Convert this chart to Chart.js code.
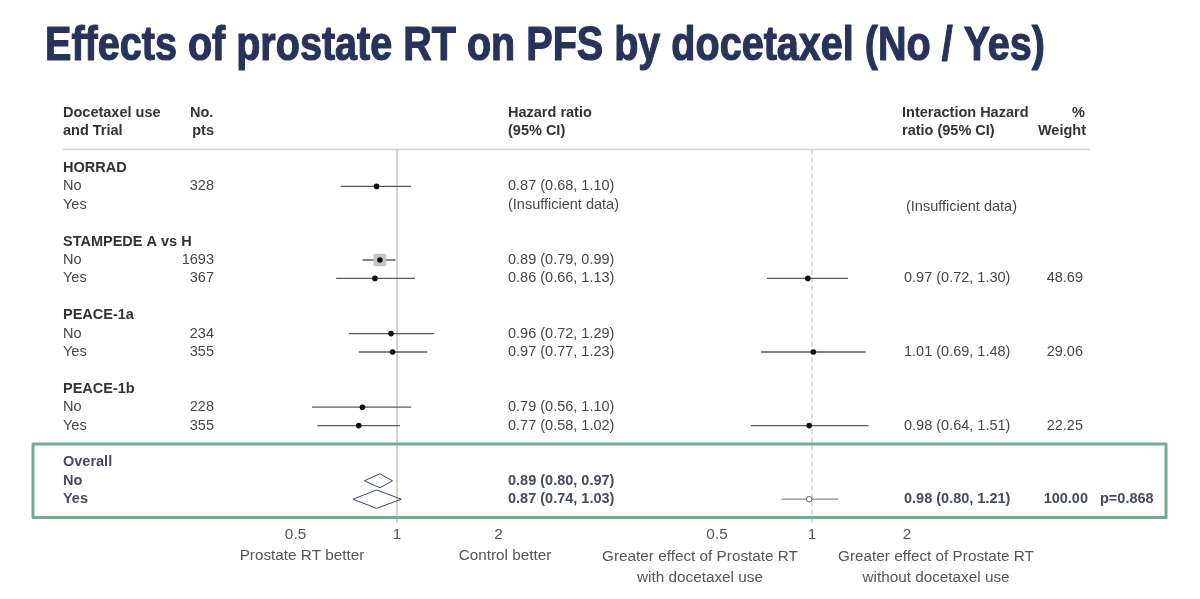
<!DOCTYPE html>
<html>
<head>
<meta charset="utf-8">
<script src="https://cdn.jsdelivr.net/npm/chart.js@4.4.0/dist/chart.umd.min.js"></script>
<style>
    html, body { margin: 0; background: #fff; }
    #wrap { width: 1200px; height: 599px; position: relative; }
</style>
</head>
<body>
<div id="wrap"><canvas id="forestChart"></canvas></div>
<script>
    // DATA
    const trials = ['HORRAD', 'STAMPEDE A vs H', 'PEACE-1a', 'PEACE-1b'];
    const groups = ['No', 'Yes'];
    const patients = [[328, null], [1693, 367], [234, 355], [228, 355]];
    const hr = [[0.87, null], [0.89, 0.86], [0.96, 0.97], [0.79, 0.77]];
    const hrLow = [[0.68, null], [0.79, 0.66], [0.72, 0.77], [0.56, 0.58]];
    const hrHigh = [[1.10, null], [0.99, 1.13], [1.29, 1.23], [1.10, 1.02]];

    const overallHr = [0.89, 0.87];
    const overallLow = [0.80, 0.74];
    const overallHigh = [0.97, 1.03];

    const interHr = [null, 0.97, 1.01, 0.98];
    const interLow = [null, 0.72, 0.69, 0.64];
    const interHigh = [null, 1.30, 1.48, 1.51];
    const interWeight = [null, 48.69, 29.06, 22.25];

    const overallInter = [0.98, 0.80, 1.21];
    const overallWeight = 100.00;
    const pInteraction = 'p=0.868';

    const xTicks = [0.5, 1, 2];

    // LAYOUT
    const ROW0 = 168, ROW_STEP = 18.4;
    const FONT = '"Liberation Sans", Arial, sans-serif';

    function rowOf(t, g) { return t * 4 + 1 + g; }
    function fmt(v, lo, hi) { return v.toFixed(2) + ' (' + lo.toFixed(2) + ', ' + hi.toFixed(2) + ')'; }

    // log scales spanning the whole canvas width, anchored on the "1" line of each panel
    const leftOne = 397, leftOct = 101.5;
    const rightOne = 812, rightOct = 95;

    const datasets = [];

    // study CI lines
    trials.forEach(function (t, i) {
        groups.forEach(function (g, j) {
            if (hr[i][j] == null) return;
            datasets.push({
                xAxisID: 'xL', showLine: true, borderColor: '#5a5a5a', borderWidth: 1.3,
                pointRadius: 0, order: 3,
                data: [{ x: hrLow[i][j], y: rowOf(i, j) }, { x: hrHigh[i][j], y: rowOf(i, j) }]
            });
        });
        if (interHr[i] != null) {
            datasets.push({
                xAxisID: 'xR', showLine: true, borderColor: '#5a5a5a', borderWidth: 1.3,
                pointRadius: 0, order: 3,
                data: [{ x: interLow[i], y: rowOf(i, 1) }, { x: interHigh[i], y: rowOf(i, 1) }]
            });
        }
    });

    // weight box (only the large one is visible)
    datasets.push({
        xAxisID: 'xL', pointStyle: 'rect', pointRadius: 9, backgroundColor: '#c6c6c6',
        borderWidth: 0, order: 2,
        data: [{ x: hr[1][0], y: rowOf(1, 0) }]
    });

    // study points
    const leftPts = [];
    trials.forEach(function (t, i) {
        groups.forEach(function (g, j) {
            if (hr[i][j] != null) leftPts.push({ x: hr[i][j], y: rowOf(i, j) });
        });
    });
    datasets.push({
        xAxisID: 'xL', pointRadius: 2.8, backgroundColor: '#111', borderWidth: 0, order: 1,
        data: leftPts
    });
    datasets.push({
        xAxisID: 'xR', pointRadius: 2.8, backgroundColor: '#111', borderWidth: 0, order: 1,
        data: interHr.map(function (v, i) { return v == null ? null : { x: v, y: rowOf(i, 1) }; })
            .filter(function (p) { return p; })
    });

    // overall diamonds
    overallHr.forEach(function (v, j) {
        const r = 17 + j, h = j == 0 ? 0.38 : 0.5;
        datasets.push({
            xAxisID: 'xL', showLine: true, borderColor: '#3d4868', borderWidth: 1,
            pointRadius: 0, order: 1, tension: 0,
            data: [
                { x: overallLow[j], y: r }, { x: v, y: r - h },
                { x: overallHigh[j], y: r }, { x: v, y: r + h }, { x: overallLow[j], y: r }
            ]
        });
    });

    // overall interaction
    datasets.push({
        xAxisID: 'xR', showLine: true, borderColor: '#8a8a8a', borderWidth: 1.3,
        pointRadius: 0, order: 3,
        data: [{ x: overallInter[1], y: 18 }, { x: overallInter[2], y: 18 }]
    });
    datasets.push({
        xAxisID: 'xR', pointRadius: 2.8, backgroundColor: '#fff', borderColor: '#666',
        borderWidth: 1, order: 1,
        data: [{ x: overallInter[0], y: 18 }]
    });

    function txt(ctx, s, x, y, align, font, color) {
        ctx.font = font;
        ctx.fillStyle = color;
        ctx.textAlign = align;
        ctx.textBaseline = 'middle';
        ctx.fillText(s, x, y);
    }

    const forestPlugin = {
        id: 'forestPlugin',
        beforeDatasetsDraw: function (chart) {
            const ctx = chart.ctx, y = chart.scales.y, xL = chart.scales.xL, xR = chart.scales.xR;
            ctx.save();
            // header rule
            ctx.strokeStyle = '#d2d2d2';
            ctx.lineWidth = 1.5;
            ctx.beginPath();
            ctx.moveTo(63, y.getPixelForValue(-1));
            ctx.lineTo(1090, y.getPixelForValue(-1));
            ctx.stroke();

            // reference lines at 1
            const top = y.getPixelForValue(-1), bottom = y.getPixelForValue(19.3);
            ctx.strokeStyle = '#a9a9a9';
            ctx.lineWidth = 1;
            ctx.beginPath();
            ctx.moveTo(xL.getPixelForValue(1), top);
            ctx.lineTo(xL.getPixelForValue(1), bottom);
            ctx.stroke();

            ctx.strokeStyle = '#cfcfcf';
            ctx.lineWidth = 1.5;
            ctx.setLineDash([5, 3]);
            ctx.beginPath();
            ctx.moveTo(xR.getPixelForValue(1), top);
            ctx.lineTo(xR.getPixelForValue(1), bottom);
            ctx.stroke();
            ctx.restore();
        },
        afterDraw: function (chart) {
            const ctx = chart.ctx, y = chart.scales.y, xL = chart.scales.xL, xR = chart.scales.xR;
            const normal = '14.5px ' + FONT, bold = 'bold 14.5px ' + FONT;
            const cText = '#474747', cHead = '#333', cOverall = '#464b5c';
            ctx.save();

            // title
            const title = 'Effects of prostate RT on PFS by docetaxel (No / Yes)';
            ctx.font = 'bold 48px ' + FONT;
            ctx.fillStyle = '#28335a';
            ctx.strokeStyle = '#28335a';
            ctx.lineWidth = 1.2;
            ctx.lineJoin = 'round';
            ctx.textAlign = 'left';
            ctx.textBaseline = 'alphabetic';
            ctx.fillText(title, 45, 60, 1000);
            ctx.strokeText(title, 45, 60, 1000);

            // column headers
            txt(ctx, 'Docetaxel use', 63, 113, 'left', bold, cHead);
            txt(ctx, 'and Trial', 63, 131, 'left', bold, cHead);
            txt(ctx, 'No.', 190, 113, 'left', bold, cHead);
            txt(ctx, 'pts', 214, 131, 'right', bold, cHead);
            txt(ctx, 'Hazard ratio', 508, 113, 'left', bold, cHead);
            txt(ctx, '(95% CI)', 508, 131, 'left', bold, cHead);
            txt(ctx, 'Interaction Hazard', 902, 113, 'left', bold, cHead);
            txt(ctx, '%', 1085, 113, 'right', bold, cHead);
            txt(ctx, 'ratio (95% CI)', 902, 131, 'left', bold, cHead);
            txt(ctx, 'Weight', 1086, 131, 'right', bold, cHead);

            // trial rows
            trials.forEach(function (t, i) {
                txt(ctx, t, 63, y.getPixelForValue(i * 4), 'left', bold, cHead);
                groups.forEach(function (g, j) {
                    const py = y.getPixelForValue(rowOf(i, j));
                    txt(ctx, g, 63, py, 'left', normal, cText);
                    if (patients[i][j] != null) txt(ctx, String(patients[i][j]), 214, py, 'right', normal, cText);
                    if (hr[i][j] != null)
                        txt(ctx, fmt(hr[i][j], hrLow[i][j], hrHigh[i][j]), 508, py, 'left', normal, cText);
                    else
                        txt(ctx, '(Insufficient data)', 508, py, 'left', normal, cText);
                });
                const py = y.getPixelForValue(rowOf(i, 1));
                if (interHr[i] != null) {
                    txt(ctx, fmt(interHr[i], interLow[i], interHigh[i]), 904, py, 'left', normal, cText);
                    txt(ctx, interWeight[i].toFixed(2), 1083, py, 'right', normal, cText);
                } else {
                    txt(ctx, '(Insufficient data)', 906, py + 2, 'left', normal, cText);
                }
            });

            // overall rows
            txt(ctx, 'Overall', 63, y.getPixelForValue(16), 'left', bold, cOverall);
            groups.forEach(function (g, j) {
                const py = y.getPixelForValue(17 + j);
                txt(ctx, g, 63, py, 'left', bold, cOverall);
                txt(ctx, fmt(overallHr[j], overallLow[j], overallHigh[j]), 508, py, 'left', bold, cOverall);
            });
            const py18 = y.getPixelForValue(18);
            txt(ctx, fmt(overallInter[0], overallInter[1], overallInter[2]), 904, py18, 'left', bold, cOverall);
            txt(ctx, overallWeight.toFixed(2), 1088, py18, 'right', bold, cOverall);
            txt(ctx, pInteraction, 1100, py18, 'left', bold, cOverall);

            // green box around overall
            ctx.strokeStyle = '#72ad93';
            ctx.lineWidth = 3;
            const bt = y.getPixelForValue(15), bb = y.getPixelForValue(19);
            ctx.strokeRect(33, bt, 1133, bb - bt);

            // axis tick labels
            const tickY = 535, tickFont = '15.3px ' + FONT;
            xTicks.forEach(function (v) {
                txt(ctx, String(v), xL.getPixelForValue(v), tickY, 'center', tickFont, '#555');
                txt(ctx, String(v), xR.getPixelForValue(v), tickY, 'center', tickFont, '#555');
            });

            // axis captions
            txt(ctx, 'Prostate RT better', 302, 556, 'center', tickFont, '#555');
            txt(ctx, 'Control better', 505, 556, 'center', tickFont, '#555');
            txt(ctx, 'Greater effect of Prostate RT', 700, 557, 'center', tickFont, '#555');
            txt(ctx, 'with docetaxel use', 700, 578, 'center', tickFont, '#555');
            txt(ctx, 'Greater effect of Prostate RT', 936, 557, 'center', tickFont, '#555');
            txt(ctx, 'without docetaxel use', 936, 578, 'center', tickFont, '#555');

            ctx.restore();
        }
    };

    const ctx = document.getElementById('forestChart').getContext('2d');
    const forestChart = new Chart(ctx, {
        type: 'scatter',
        data: { datasets: datasets },
        options: {
            responsive: true,
            maintainAspectRatio: false,
            animation: false,
            layout: {
                autoPadding: false,
                padding: {
                    top: ROW0 - ROW_STEP,
                    bottom: 599 - (ROW0 + 19 * ROW_STEP),
                    left: 0,
                    right: 0
                }
            },
            plugins: {
                legend: { display: false },
                tooltip: { enabled: false },
                title: { display: false }
            },
            scales: {
                xL: {
                    type: 'logarithmic', display: false,
                    min: Math.pow(2, -leftOne / leftOct),
                    max: Math.pow(2, (1200 - leftOne) / leftOct)
                },
                xR: {
                    type: 'logarithmic', display: false,
                    min: Math.pow(2, -rightOne / rightOct),
                    max: Math.pow(2, (1200 - rightOne) / rightOct)
                },
                y: {
                    type: 'linear', display: false, reverse: true,
                    min: -1, max: 19
                }
            }
        },
        plugins: [forestPlugin]
    });
</script>
</body>
</html>
